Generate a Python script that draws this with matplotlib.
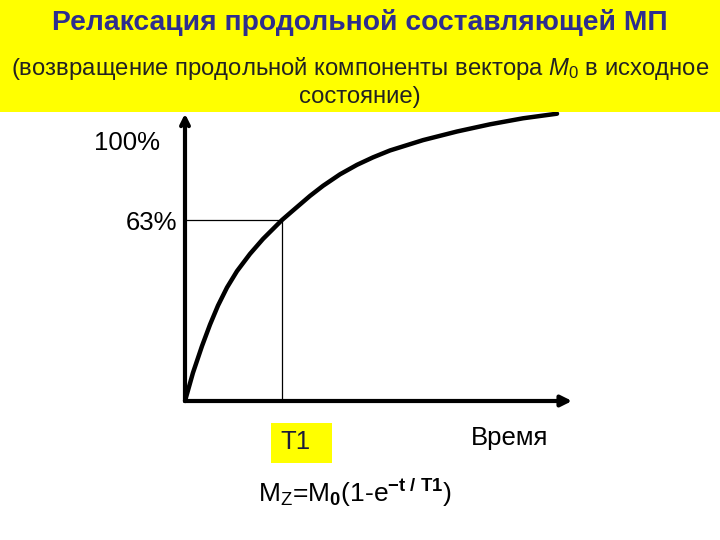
import matplotlib
matplotlib.use("Agg")
import matplotlib.pyplot as plt
from matplotlib.patches import Rectangle

plt.rcParams['font.family'] = ['Liberation Sans', 'DejaVu Sans']
plt.rcParams['mathtext.fontset'] = 'custom'
plt.rcParams['mathtext.rm'] = 'Liberation Sans'
plt.rcParams['mathtext.it'] = 'Liberation Sans:italic'
plt.rcParams['mathtext.bf'] = 'Liberation Sans:bold'

# Data (time in units of T1, Mz as fraction of M0)
time = [0.0, 0.082, 0.175, 0.258, 0.340, 0.433, 0.536, 0.670, 0.804, 1.0,
        1.113, 1.289, 1.423, 1.598, 1.773, 1.938, 2.113, 2.454, 2.804,
        3.144, 3.485, 3.835]
mz = [0.0, 0.098, 0.191, 0.266, 0.332, 0.395, 0.452, 0.512, 0.564, 0.63,
      0.663, 0.714, 0.749, 0.789, 0.822, 0.848, 0.872, 0.908, 0.938,
      0.963, 0.984, 1.0]
t1_time = 1.0
t1_level = 0.63

title = "Релаксация продольной составляющей МП"
subtitle1 = "(возвращение продольной компоненты вектора $M_0$ в исходное"
subtitle2 = "состояние)"
label_100 = "100%"
label_63 = "63%"
label_t1 = "T1"
label_time = "Время"
formula = r"M$_\mathrm{Z}$=M$_\mathbf{0}$(1-e$^{\mathbf{-t\ /\ T1}}$)"

fig = plt.figure(figsize=(7.2, 5.4), dpi=100)
fig.patch.set_facecolor('white')
ax = fig.add_axes([0, 0, 1, 1])
ax.set_xlim(-1.907, 5.515)
ax.set_ylim(-0.4838, 1.3957)
ax.axis('off')

# axes arrows
ax.annotate('', xy=(3.99, 0), xytext=(0, 0),
            arrowprops=dict(arrowstyle='-|>', lw=3, color='black',
                            mutation_scale=16, shrinkA=0, shrinkB=0))
ax.annotate('', xy=(0, 1.0), xytext=(0, 0),
            arrowprops=dict(arrowstyle='->', lw=3, color='black',
                            mutation_scale=14, shrinkA=0, shrinkB=0))

# 63% guide lines
ax.plot([0, t1_time], [t1_level, t1_level], color='black', lw=0.9)
ax.plot([t1_time, t1_time], [0, t1_level], color='black', lw=0.9)

# curve
ax.plot(time, mz, color='black', lw=3.2, solid_capstyle='round',
        solid_joinstyle='round', zorder=3)

# header
fig.patches.append(Rectangle((0, 1 - 112 / 540), 1, 112 / 540,
                             transform=fig.transFigure, facecolor='#FFFF00',
                             edgecolor='none', zorder=5))
fig.text(0.5, 1 - 22 / 540, title, ha='center', va='center', fontsize=20.3,
         fontweight='bold', color='#2E2E8E', zorder=6)
fig.text(0.5, 1 - 68 / 540, subtitle1, ha='center', va='center', fontsize=17.2,
         color='#222222', zorder=6)
fig.text(0.5, 1 - 97 / 540, subtitle2, ha='center', va='center', fontsize=17.2,
         color='#222222', zorder=6)

# labels
fig.text(160 / 720, 1 - 143 / 540, label_100, ha='right', va='center',
         fontsize=18.5, color='black')
fig.text(177 / 720, 1 - 223 / 540, label_63, ha='right', va='center',
         fontsize=18.5, color='black')
fig.patches.append(Rectangle((271 / 720, 1 - 463 / 540), 61 / 720, 40 / 540,
                             transform=fig.transFigure, facecolor='#FFFF00',
                             edgecolor='none', zorder=1))
fig.text(295 / 720, 1 - 442 / 540, label_t1, ha='center', va='center',
         fontsize=18.5, color='#1a1a3a', zorder=2)
fig.text(510 / 720, 1 - 438 / 540, label_time, ha='center', va='center',
         fontsize=18.5, color='black')
fig.text(258 / 720, 1 - 493 / 540, formula, ha='left', va='center',
         fontsize=19, color='black')

fig.savefig('out.png', dpi=100, facecolor='white')
